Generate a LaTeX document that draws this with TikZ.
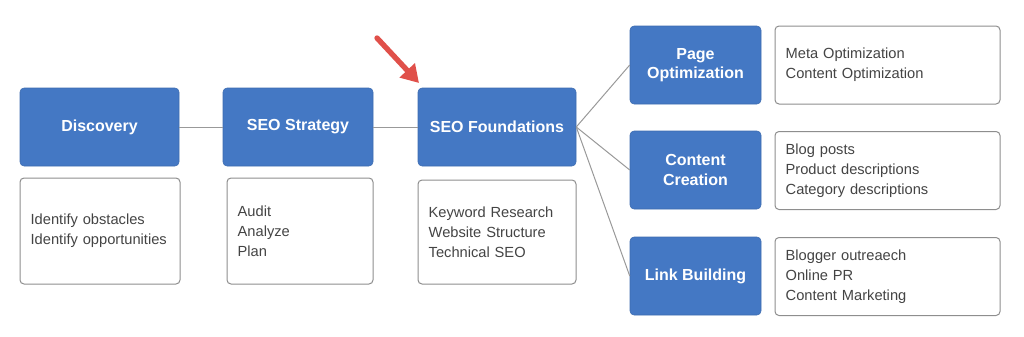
\documentclass[tikz,border=0pt]{standalone}
\usepackage{fontspec}
\setmainfont{Liberation Sans}
\usetikzlibrary{arrows.meta}
\definecolor{boxblue}{HTML}{4478C4}
\definecolor{descgray}{HTML}{444444}
\definecolor{framegray}{HTML}{8E8E8E}
\definecolor{linegray}{HTML}{999999}
\definecolor{arrred}{HTML}{E0504A}
\tikzset{
  stage/.style={rectangle, rounded corners=3pt, fill=boxblue, draw=boxblue!90!black, line width=0.4pt,
    text=white, font=\fontsize{12}{14.5}\selectfont\bfseries, align=center,
    minimum height=58.5pt, inner sep=0pt},
  desc/.style={rectangle, rounded corners=3pt, draw=framegray, line width=0.75pt, fill=white,
    text=descgray, font=\fontsize{11}{15}\selectfont, align=left,
    inner xsep=8pt, inner ysep=0pt},
  link/.style={draw=linegray, line width=0.75pt},
}
\begin{document}
\begin{tikzpicture}[x=0.75pt,y=-0.75pt]
\useasboundingbox (0,0) rectangle (1024,336);
% stages
\node[stage, minimum width=119.25pt] (disc) at (99.5,127) {Discovery};
\node[stage, minimum width=112.5pt] (strat) at (298,127) {SEO Strategy};
\node[stage, minimum width=118.5pt] (found) at (497,127) {SEO Foundations};
\node[stage, minimum width=98.25pt] (page) at (695.5,65) {Page\\Optimization};
\node[stage, minimum width=98.25pt] (content) at (695.5,170) {Content\\Creation};
\node[stage, minimum width=98.25pt] (linkb) at (695.5,276) {Link Building};
% descriptions
\node[desc, text width=104pt, minimum height=79.5pt] (discd) at (100,231) {Identify obstacles\\Identify opportunities};
\node[desc, text width=93.5pt, minimum height=79.5pt] (stratd) at (300,231) {Audit\\Analyze\\Plan};
\node[desc, text width=102.5pt, minimum height=78pt] (foundd) at (497,232) {Keyword Research\\Website Structure\\Technical SEO};
\node[desc, text width=152.75pt, minimum height=58.5pt] (paged) at (887.5,65) {Meta Optimization\\Content Optimization};
\node[desc, text width=152.75pt, minimum height=58.5pt] (contentd) at (887.5,170.5) {Blog posts\\Product descriptions\\Category descriptions};
\node[desc, text width=152.75pt, minimum height=58.5pt] (linkd) at (887.5,276.5) {Blogger outreaech\\Online PR\\Content Marketing};
% connectors
\draw[link] (disc.east) -- (strat.west);
\draw[link] (strat.east) -- (found.west);
\draw[link] (found.east) -- (page.west);
\draw[link] (found.east) -- (content.west);
\draw[link] (found.east) -- (linkb.west);
% red arrow
\coordinate (arrS) at (377,38);
\coordinate (arrE) at (419,83);
\draw[arrred, line width=4pt, line cap=round, -{Triangle[length=13pt, width=15pt]}] (arrS) -- (arrE);
\end{tikzpicture}
\end{document}
